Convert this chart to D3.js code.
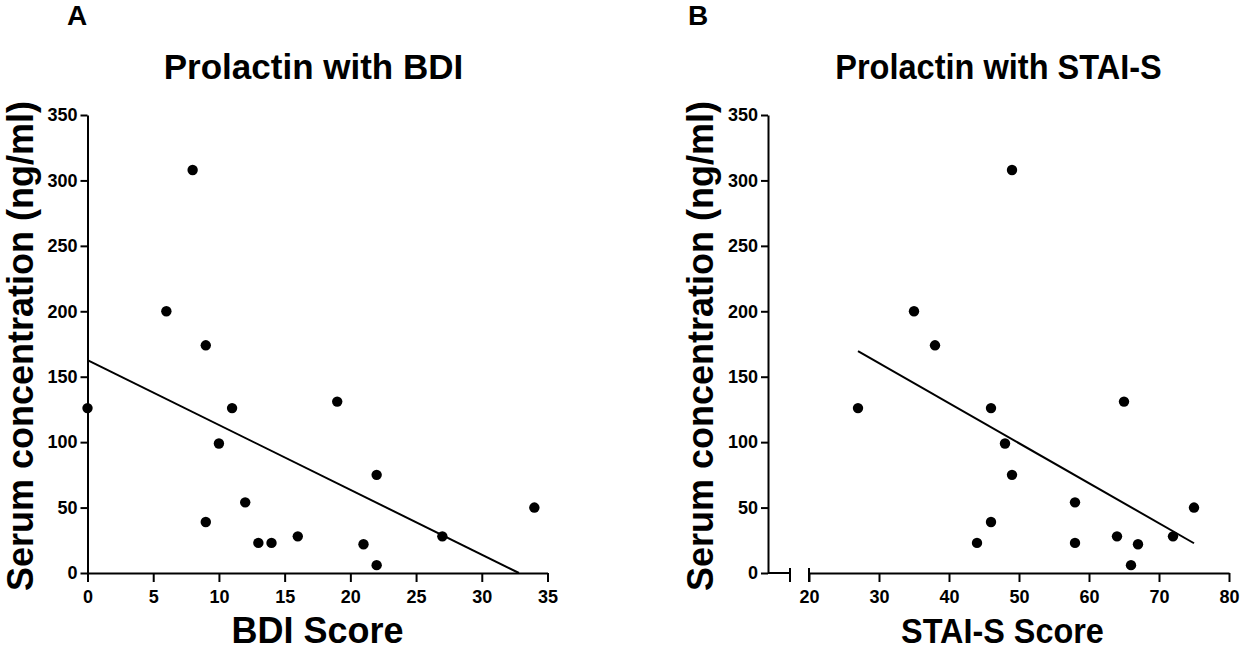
<!DOCTYPE html>
<html>
<head>
<meta charset="utf-8">
<script src="https://cdn.jsdelivr.net/npm/d3@7"></script>
<style>
  body { margin: 0; background: #fff; }
  svg text { font-family: "Liberation Sans", Arial, sans-serif; font-weight: bold; fill: #000; }
</style>
</head>
<body>
<div id="chart"></div>
<script>
// values (one entry per subject)
let prolactin = [308, 200, 174, 131, 126, 126, 99, 75, 54, 50, 39, 28, 28, 23, 23, 22, 6]
let bdiScore  = [8, 6, 9, 19, 0, 11, 10, 22, 12, 34, 9, 16, 27, 13, 14, 21, 22]
let staiScore = [49, 35, 38, 65, 27, 46, 48, 49, 58, 75, 46, 64, 72, 44, 58, 67, 66]

let yTicks = [0, 50, 100, 150, 200, 250, 300, 350]
let bdiTicks = [0, 5, 10, 15, 20, 25, 30, 35]
let staiTicks = [20, 30, 40, 50, 60, 70, 80]

let svg = d3.select("#chart").append("svg")
  .attr("width", 1240)
  .attr("height", 650)

let plotTop = 115, plotBottom = 573

// least squares line through the points
function fit(xs, ys) {
  let mx = d3.mean(xs), my = d3.mean(ys)
  let sxy = d3.sum(xs, (x, i) => (x - mx) * (ys[i] - my))
  let sxx = d3.sum(xs, x => (x - mx) * (x - mx))
  let m = sxy / sxx
  return { m: m, b: my - m * mx }
}

function panel(opt) {
  let g = svg.append("g")
  let x = d3.scaleLinear().domain(opt.xDomain).range(opt.xRange)
  let y = d3.scaleLinear().domain([0, 350]).range([plotBottom, plotTop])

  // y axis
  let yAxis = g.append("g")
    .attr("transform", `translate(${opt.axisX},0)`)
    .call(d3.axisLeft(y).tickValues(yTicks).tickSize(7).tickSizeOuter(0).tickPadding(3))
  yAxis.selectAll("text").style("font-size", "18px")

  // x axis
  let xAxis = g.append("g")
    .attr("transform", `translate(0,${plotBottom})`)
    .call(d3.axisBottom(x).tickValues(opt.xTicks).tickSize(9).tickSizeOuter(0).tickPadding(8))
  xAxis.selectAll("text").style("font-size", "18px")

  g.selectAll(".domain").attr("stroke-width", 2)
  g.selectAll(".tick line").attr("stroke-width", 2)

  if (opt.xRange[0] > opt.axisX) {
    // broken x axis: short stub from the y axis, then a gap
    let stubEnd = opt.axisX + 22
    g.append("line")
      .attr("x1", opt.axisX).attr("x2", stubEnd)
      .attr("y1", plotBottom).attr("y2", plotBottom)
      .attr("stroke", "#000").attr("stroke-width", 2)
    g.selectAll(".cap")
      .data([stubEnd, x(opt.xDomain[0])])
      .enter()
      .append("line")
      .attr("class", "cap")
      .attr("x1", d => d).attr("x2", d => d)
      .attr("y1", plotBottom - 5).attr("y2", plotBottom + 9)
      .attr("stroke", "#000").attr("stroke-width", 2)
  }

  // regression line, stopped where it meets the x axis
  let f = fit(opt.xs, prolactin)
  let x0 = d3.min(opt.xs)
  let x1 = d3.max(opt.xs)
  if (f.m * x1 + f.b < 0) x1 = -f.b / f.m
  g.append("line")
    .attr("x1", x(x0)).attr("y1", y(f.m * x0 + f.b))
    .attr("x2", x(x1)).attr("y2", y(f.m * x1 + f.b))
    .attr("stroke", "#000").attr("stroke-width", 2)

  g.selectAll("circle")
    .data(opt.xs)
    .enter()
    .append("circle")
    .attr("cx", d => x(d))
    .attr("cy", (d, i) => y(prolactin[i]))
    .attr("r", 5.2)
    .style("fill", "#000")

  let mid = (opt.axisX + opt.xRange[1]) / 2

  g.append("text")
    .attr("x", opt.letterX).attr("y", 25)
    .attr("text-anchor", "middle")
    .style("font-size", "28px")
    .text(opt.letter)

  g.append("text")
    .attr("transform", `translate(${mid + opt.titleShift},79) scale(${opt.titleSqueeze},1)`)
    .attr("text-anchor", "middle")
    .style("font-size", "35px")
    .text(opt.title)

  g.append("text")
    .attr("transform", `translate(${mid + opt.labelShift},643) scale(${opt.labelSqueeze},1)`)
    .attr("text-anchor", "middle")
    .style("font-size", "36px")
    .text(opt.xLabel)

  g.append("text")
    .attr("transform", `translate(${opt.axisX - 55},${(plotTop + plotBottom) / 2 + 2}) rotate(-90)`)
    .attr("text-anchor", "middle")
    .style("font-size", "36px")
    .text("Serum concentration (ng/ml)")
}

panel({
  letter: "A", letterX: 77,
  title: "Prolactin with BDI", xLabel: "BDI Score",
  titleShift: -4, titleSqueeze: 1,
  labelShift: 0, labelSqueeze: 1,
  xs: bdiScore, xDomain: [0, 35], xRange: [87.5, 547.5],
  xTicks: bdiTicks, axisX: 87.5
})

panel({
  letter: "B", letterX: 698,
  title: "Prolactin with STAI-S", xLabel: "STAI-S Score",
  titleShift: 0, titleSqueeze: 0.93,
  labelShift: 4, labelSqueeze: 0.9,
  xs: staiScore, xDomain: [20, 80], xRange: [809, 1229],
  xTicks: staiTicks, axisX: 768
})
</script>
</body>
</html>
